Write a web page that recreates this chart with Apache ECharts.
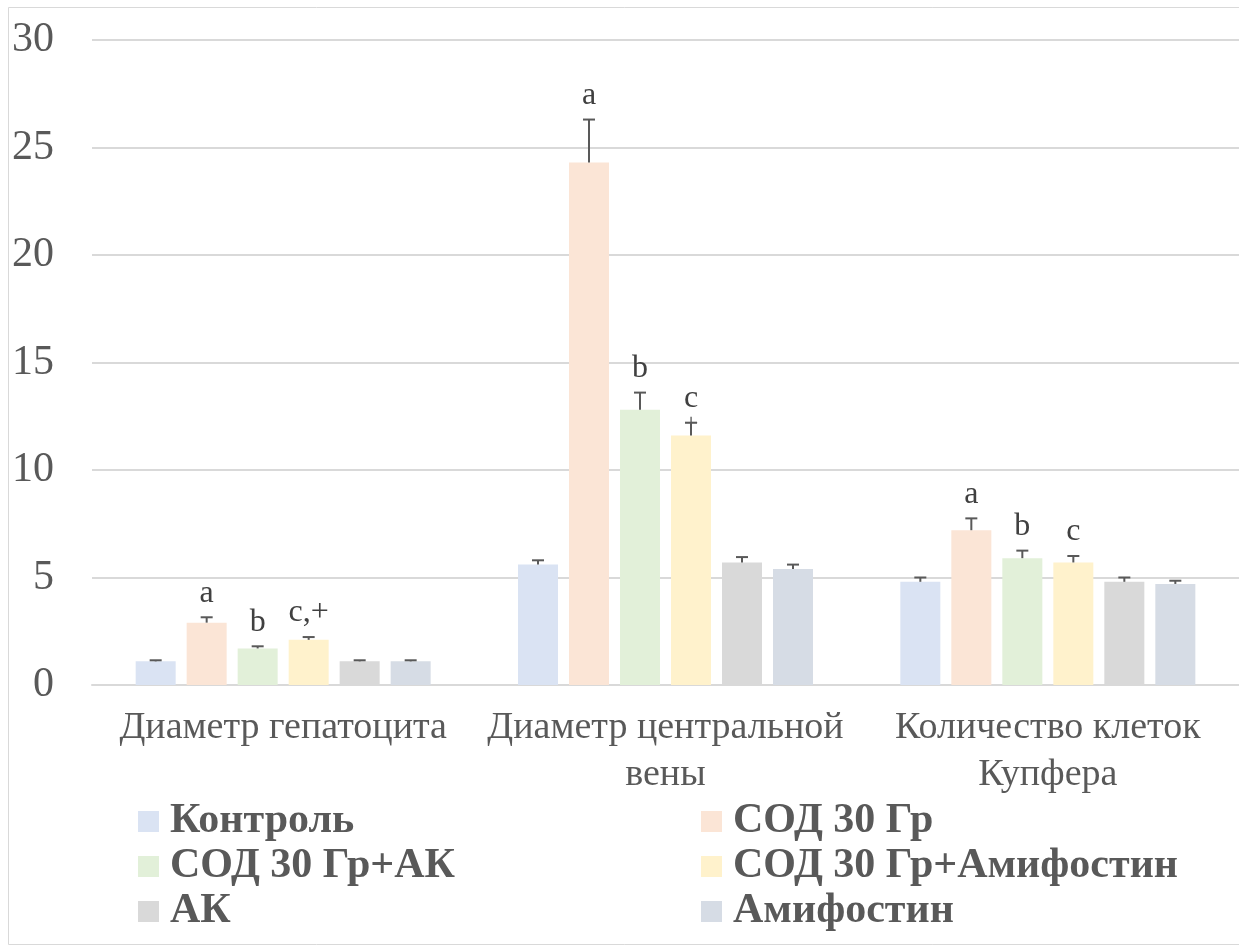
<!DOCTYPE html>
<html>
<head>
<meta charset="utf-8">
<script src="https://cdn.jsdelivr.net/npm/echarts@6/dist/echarts.min.js"></script>
<style>html,body{margin:0;padding:0;background:#fff}#c{width:1239px;height:949px}</style>
</head>
<body>
<div id="c"></div>
<script>
const categories = ['Диаметр гепатоцита', 'Диаметр центральной\nвены', 'Количество клеток\nКупфера'];
const seriesNames = ['Контроль', 'СОД 30 Гр', 'СОД 30 Гр+АК', 'СОД 30 Гр+Амифостин', 'АК', 'Амифостин'];
const yTicks = [0, 5, 10, 15, 20, 25, 30];

const control    = [1.1, 5.6, 4.8];
const controlErr = [0.05, 0.2, 0.2];
const sod        = [2.9, 24.3, 7.2];
const sodErr     = [0.25, 2.0, 0.55];
const sodAk      = [1.7, 12.8, 5.9];
const sodAkErr   = [0.1, 0.8, 0.35];
const sodAmi     = [2.1, 11.6, 5.7];
const sodAmiErr  = [0.13, 0.6, 0.3];
const ak         = [1.1, 5.7, 4.8];
const akErr      = [0.05, 0.25, 0.2];
const ami        = [1.1, 5.4, 4.7];
const amiErr     = [0.05, 0.2, 0.15];

const controlLabels = ['', '', ''];
const sodLabels     = ['a', 'a', 'a'];
const sodAkLabels   = ['b', 'b', 'b'];
const sodAmiLabels  = ['c,+', 'c', 'c'];
const akLabels      = ['', '', ''];
const amiLabels     = ['', '', ''];
const sodAmiCapMarks = ['', '+', ''];

const values = [control, sod, sodAk, sodAmi, ak, ami];
const errs = [controlErr, sodErr, sodAkErr, sodAmiErr, akErr, amiErr];
const labels = [controlLabels, sodLabels, sodAkLabels, sodAmiLabels, akLabels, amiLabels];
const capMarks = [null, null, null, sodAmiCapMarks, null, null];
const colors = ['#dae3f3', '#fbe5d6', '#e2f0d9', '#fff2cc', '#d9d9d9', '#d6dce5'];

const BW = 40, GAP = 11, N = 6;
const serif = '"Liberation Serif", "Times New Roman", serif';

const series = [];
values.forEach((v, i) => {
  series.push({
    name: seriesNames[i], type: 'bar', data: v, barWidth: BW, barGap: (GAP / BW * 100) + '%',
    itemStyle: { color: colors[i] }, z: 2
  });
});
values.forEach((v, i) => {
  series.push({
    type: 'custom', z: 5, silent: true,
    data: v.map((val, k) => [k, val, errs[i][k]]),
    renderItem: function (params, api) {
      const k = api.value(0), val = api.value(1), e = api.value(2);
      const total = N * BW + (N - 1) * GAP;
      const cx = api.coord([k, 0])[0] - total / 2 + i * (BW + GAP) + BW / 2;
      const yTop = api.coord([k, val])[1];
      const yCap = api.coord([k, val + e])[1];
      const children = [
        { type: 'line', shape: { x1: cx, y1: yTop, x2: cx, y2: yCap }, style: { stroke: '#595959', lineWidth: 2 } },
        { type: 'line', shape: { x1: cx - 6, y1: yCap, x2: cx + 6, y2: yCap }, style: { stroke: '#595959', lineWidth: 2 } }
      ];
      const lab = labels[i][params.dataIndex];
      if (lab) {
        children.push({ type: 'text', style: { text: lab, x: cx, y: yCap - 8, align: 'center', verticalAlign: 'bottom',
          font: '32px ' + serif, fill: '#404040' } });
      }
      const cm = capMarks[i] && capMarks[i][params.dataIndex];
      if (cm) {
        children.push({ type: 'text', style: { text: cm, x: cx, y: yCap + 1, align: 'center', verticalAlign: 'middle',
          font: '26px ' + serif, fill: '#595959' } });
      }
      return { type: 'group', children: children };
    }
  });
});

const legendText = { fontFamily: serif, fontSize: 42, fontWeight: 'bold', color: '#595959', lineHeight: 45, padding: [0, 0, 0, 6] };
const chart = echarts.init(document.getElementById('c'), null, { renderer: 'canvas' });
chart.setOption({
  animation: false,
  backgroundColor: '#ffffff',
  graphic: [{ type: 'rect', shape: { x: 8.5, y: 7.5, width: 1240, height: 937 }, style: { fill: 'none', stroke: '#d9d9d9', lineWidth: 1 }, silent: true }],
  grid: { left: 92, right: -2, top: 40, bottom: 264, containLabel: false },
  legend: [
    { data: [seriesNames[0], seriesNames[2], seriesNames[4]], orient: 'vertical', left: 138, top: 799,
      itemWidth: 21, itemHeight: 21, itemGap: 0, padding: 0, icon: 'rect', textStyle: legendText, selectedMode: false },
    { data: [seriesNames[1], seriesNames[3], seriesNames[5]], orient: 'vertical', left: 701, top: 799,
      itemWidth: 21, itemHeight: 21, itemGap: 0, padding: 0, icon: 'rect', textStyle: legendText, selectedMode: false }
  ],
  xAxis: {
    type: 'category', data: categories,
    axisLine: { show: true, lineStyle: { color: '#d9d9d9', width: 2 } },
    axisTick: { show: false },
    axisLabel: { fontFamily: serif, fontSize: 38, color: '#595959', margin: 20, lineHeight: 47, interval: 0 }
  },
  yAxis: {
    type: 'value', min: yTicks[0], max: yTicks[yTicks.length - 1], interval: 5,
    axisLine: { show: false }, axisTick: { show: false },
    splitLine: { lineStyle: { color: '#d9d9d9', width: 2 } },
    axisLabel: { fontFamily: serif, fontSize: 42, color: '#595959', margin: 38 }
  },
  series: series
});
</script>
</body>
</html>
